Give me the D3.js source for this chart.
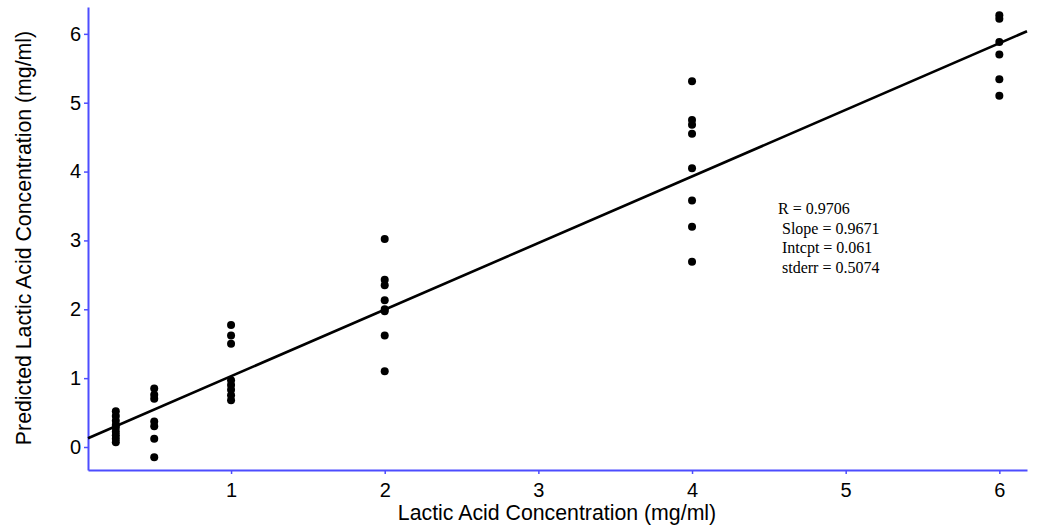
<!DOCTYPE html>
<html>
<head>
<meta charset="utf-8">
<script src="https://cdn.jsdelivr.net/npm/d3@7"></script>
<style>
  body { margin: 0; background: #fff; }
</style>
</head>
<body>
<script>
// data
var xLevels = [0.25, 0.5, 1, 2, 4, 6];
var yAt025 = [0.52, 0.45, 0.38, 0.32, 0.28, 0.22, 0.17, 0.12, 0.07];
var yAt05 = [0.85, 0.76, 0.70, 0.37, 0.30, 0.12, -0.15];
var yAt1 = [1.77, 1.62, 1.50, 0.97, 0.90, 0.83, 0.75, 0.68];
var yAt2 = [3.02, 2.43, 2.35, 2.13, 2.00, 1.97, 1.62, 1.10];
var yAt4 = [5.31, 4.75, 4.68, 4.55, 4.05, 3.58, 3.20, 2.69];
var yAt6 = [6.27, 6.22, 5.88, 5.70, 5.34, 5.10];
var xTicks = [1, 2, 3, 4, 5, 6];
var yTicks = [0, 1, 2, 3, 4, 5, 6];
var fitSlope = 0.9671, fitIntercept = 0.061;
var statsText = ["R = 0.9706", " Slope = 0.9671", " Intcpt = 0.061", " stderr = 0.5074"];

var groups = [yAt025, yAt05, yAt1, yAt2, yAt4, yAt6];
var points = [];
groups.forEach(function(g, i){
   g.forEach(function(v){ points.push({x: xLevels[i], y: v}); });
});

var width = 1039, height = 525;
var axisCol = "#4d4dff";

var x = d3.scaleLinear().domain([0.069, 6.18]).range([88, 1027]);
var y = d3.scaleLinear().domain([-0.334, 6.39]).range([470, 7]);

var svg = d3.select("body").append("svg")
   .attr("width", width).attr("height", height);

//AXES
var xAxis = svg.append("g").attr("transform", "translate(0,470)")
   .call(d3.axisBottom(x).tickValues(xTicks).tickFormat(d3.format("d")).tickSize(4).tickSizeOuter(0));
var yAxis = svg.append("g").attr("transform", "translate(88,0)")
   .call(d3.axisLeft(y).tickValues(yTicks).tickFormat(d3.format("d")).tickSize(4).tickSizeOuter(0));

[xAxis, yAxis].forEach(function(a){
   a.select(".domain").attr("stroke", axisCol).attr("stroke-width", 2);
   a.selectAll(".tick line").attr("stroke", axisCol).attr("stroke-width", 1.5);
   a.selectAll(".tick text")
      .attr("fill", "#000")
      .attr("font-family", "Liberation Sans, Arial, sans-serif")
      .attr("font-size", "20px");
});
xAxis.selectAll(".tick text").attr("dy", "0.95em").attr("y", 8);
yAxis.selectAll(".tick text").attr("x", -7);

//axis titles
svg.append("text")
   .attr("x", 557).attr("y", 520)
   .attr("text-anchor", "middle")
   .attr("font-family", "Liberation Sans, Arial, sans-serif")
   .attr("font-size", "21.3px")
   .attr("fill", "#000")
   .text("Lactic Acid Concentration (mg/ml)");

svg.append("text")
   .attr("transform", "translate(31,238) rotate(-90)")
   .attr("text-anchor", "middle")
   .attr("font-family", "Liberation Sans, Arial, sans-serif")
   .attr("font-size", "21.3px")
   .attr("fill", "#000")
   .text("Predicted Lactic Acid Concentration (mg/ml)");

//regression line
var xd = x.domain();
var line = d3.line().x(function(d){ return x(d); }).y(function(d){ return y(fitSlope * d + fitIntercept); });
svg.append("path")
   .attr("d", line(xd))
   .attr("stroke", "#000")
   .attr("stroke-width", 2.6)
   .attr("fill", "none");

//points
svg.selectAll("circle.pt").data(points).enter().append("circle")
   .attr("class", "pt")
   .attr("cx", function(d){ return x(d.x); })
   .attr("cy", function(d){ return y(d.y); })
   .attr("r", 4)
   .attr("fill", "#000");

//stats box
svg.append("text").selectAll("tspan").data(statsText).enter().append("tspan")
   .attr("x", 778)
   .attr("y", function(d, i){ return 214 + i * 19.6; })
   .attr("xml:space", "preserve")
   .style("white-space", "pre")
   .attr("font-family", "Liberation Serif, Times New Roman, serif")
   .attr("font-size", "16px")
   .attr("fill", "#000")
   .text(function(d){ return d; });
</script>
</body>
</html>
